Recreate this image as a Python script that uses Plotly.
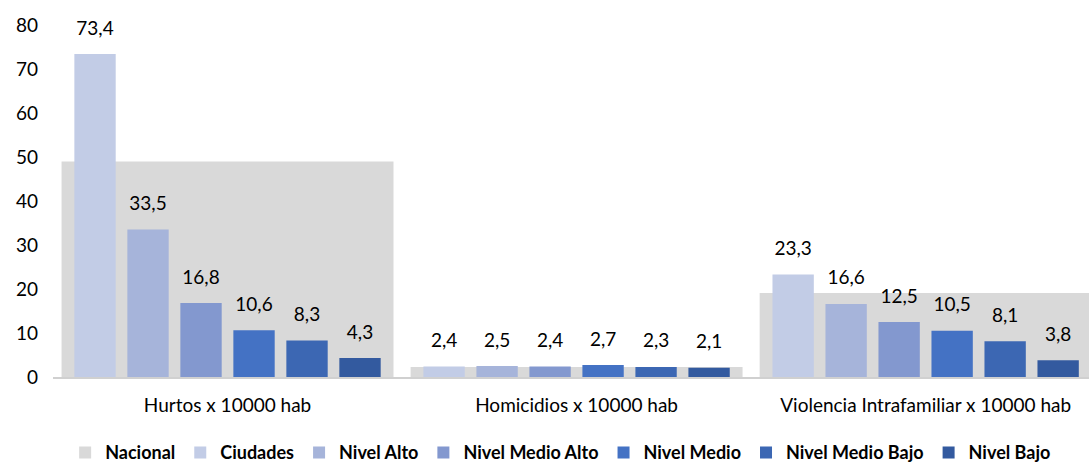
import plotly.graph_objects as go

categories = ["Hurtos x 10000 hab", "Homicidios x 10000 hab", "Violencia Intrafamiliar x 10000 hab"]

nacional = [49.0, 2.3, 19.1]
ciudades = [73.4, 2.4, 23.3]
nivel_alto = [33.5, 2.5, 16.6]
nivel_medio_alto = [16.8, 2.4, 12.5]
nivel_medio = [10.6, 2.7, 10.5]
nivel_medio_bajo = [8.3, 2.3, 8.1]
nivel_bajo = [4.3, 2.1, 3.8]

series = [
    ("Ciudades", ciudades, "#C2CCE6"),
    ("Nivel Alto", nivel_alto, "#A6B4DA"),
    ("Nivel Medio Alto", nivel_medio_alto, "#8398CF"),
    ("Nivel Medio", nivel_medio, "#4472C4"),
    ("Nivel Medio Bajo", nivel_medio_bajo, "#3C67B3"),
    ("Nivel Bajo", nivel_bajo, "#335A9F"),
]

FONT = "Lato, Carlito, Calibri, sans-serif"

fig = go.Figure()

# National reference: one wide grey bar behind each group
fig.add_trace(go.Bar(
    x=categories, y=nacional, name="Nacional",
    marker=dict(color="#D9D9D9", line=dict(width=0)),
    width=0.951, xaxis="x", yaxis="y",
    hoverinfo="y+name",
))

# City / level series, grouped on an overlaying axis so they sit in front
for name, vals, color in series:
    fig.add_trace(go.Bar(
        x=categories, y=vals, name=name,
        marker=dict(color=color, line=dict(width=0)),
        xaxis="x2", yaxis="y",
    ))

# Value labels: grouped text points over each bar, lifted by an invisible marker
for name, vals, color in series:
    fig.add_trace(go.Scatter(
        x=categories, y=vals, name=name, mode="text+markers",
        marker=dict(size=22, opacity=0),
        texttemplate="%{y:.1f}", textposition="top center",
        textfont=dict(family=FONT, size=19, color="#000000"),
        xaxis="x2", yaxis="y", showlegend=False, hoverinfo="skip",
        cliponaxis=False,
    ))

fig.update_layout(
    width=1089, height=464,
    margin=dict(l=53, r=0, t=25, b=87, autoexpand=False),
    paper_bgcolor="white", plot_bgcolor="white",
    barmode="group", bargap=0.089, bargroupgap=0.22,
    scattermode="group", scattergap=0.089,
    separators=",.",
    font=dict(family=FONT, size=19, color="#000000"),
    showlegend=True,
    legend=dict(
        orientation="h", x=0.49, xanchor="center", y=-0.215, yanchor="middle",
        font=dict(family=FONT, size=18, color="#000000", weight="bold"),
        traceorder="normal", itemwidth=30, tracegroupgap=0,
    ),
    xaxis=dict(
        type="category", range=[-0.5, 2.468],
        showline=True, linecolor="#D0D0D0", linewidth=1.5,
        showgrid=False, ticks="", ticklabelstandoff=10,
        tickfont=dict(family=FONT, size=19, color="#000000"),
    ),
    xaxis2=dict(
        type="category", range=[-0.5, 2.468], overlaying="x",
        visible=False, matches="x",
    ),
    yaxis=dict(
        range=[0, 80], dtick=10, showgrid=False, zeroline=False,
        showline=False, ticks="", ticklabelstandoff=14,
        tickfont=dict(family=FONT, size=19, color="#000000"),
    ),
)

fig.write_html("out.html")
